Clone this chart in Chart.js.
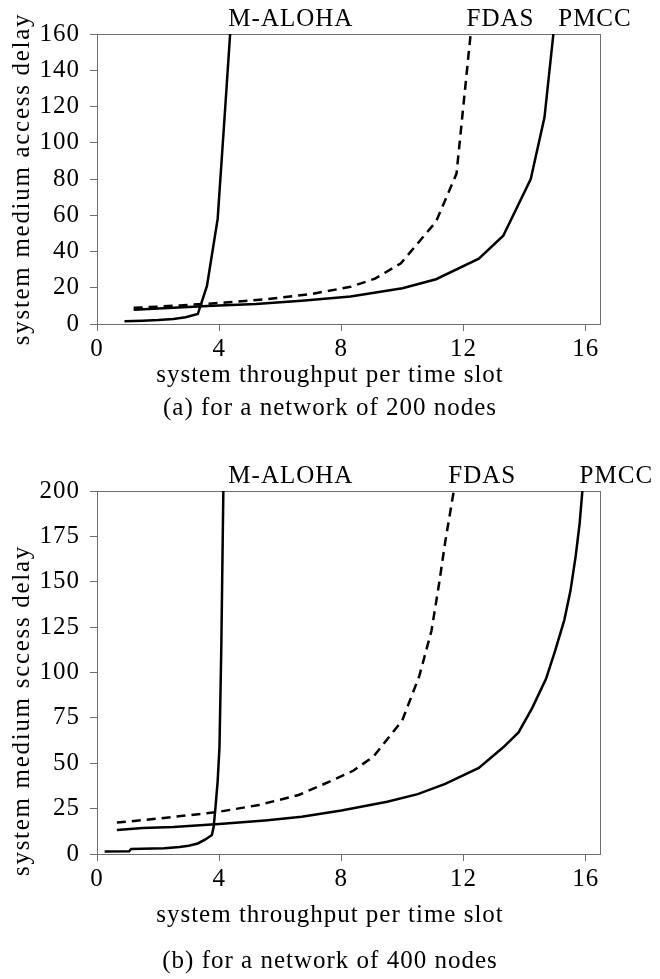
<!DOCTYPE html>
<html>
<head>
<meta charset="utf-8">
<script src="https://cdn.jsdelivr.net/npm/chart.js@4.4.1/dist/chart.umd.min.js"></script>
<style>
    html, body { margin: 0; padding: 0; background: #fff; }
    body { width: 660px; height: 979px; position: relative; overflow: hidden; }
    .panel { position: absolute; left: 0; width: 660px; }
    #panelA { top: 0; height: 432px; }
    #panelB { top: 440px; height: 539px; }
</style>
</head>
<body>
<div class="panel" id="panelA"><canvas id="chartA"></canvas></div>
<div class="panel" id="panelB"><canvas id="chartB"></canvas></div>
<script>
// curve names, written above the plot where each curve leaves it
const seriesNames = ["M-ALOHA", "FDAS", "PMCC"];
const xTicks = [0, 4, 8, 12, 16];

// (a) network of 200 nodes
const yTicksA = [0, 20, 40, 60, 80, 100, 120, 140, 160];
const alohaAx = [0.9, 1.5, 2.0, 2.5, 2.9, 3.3, 3.6, 3.95, 4.2, 4.37];
const alohaAy = [1.5, 1.8, 2.2, 2.8, 3.7, 5.5, 21, 58, 120, 163];
const fdasAx = [1.2, 2.7, 4.2, 5.6, 7.0, 8.3, 9.1, 9.95, 11.1, 11.77, 12.25];
const fdasAy = [8.9, 10.2, 11.8, 13.8, 16.5, 20.5, 25, 33.5, 56.5, 83, 163];
const pmccAx = [1.2, 2.5, 3.8, 5.2, 6.7, 8.3, 10, 11.1, 12.5, 13.3, 14.2, 14.65, 14.96];
const pmccAy = [7.9, 9.0, 10.1, 11.1, 12.8, 15.2, 19.7, 24.7, 36, 48.7, 80, 114, 163];
const labelAtA = [4.3, 12.1, 15.1];

// (b) network of 400 nodes
const yTicksB = [0, 25, 50, 75, 100, 125, 150, 175, 200];
const alohaBx = [0.25, 1.05, 1.12, 2.2, 2.7, 3.0, 3.3, 3.55, 3.76, 3.82, 3.88, 3.95, 4.01, 4.07, 4.14];
const alohaBy = [1.4, 1.5, 2.8, 3.2, 3.8, 4.5, 5.8, 8.0, 10.5, 15, 26, 40, 59, 114, 205];
const fdasBx = [0.65, 2, 3.9, 5.3, 6.6, 7.7, 8.4, 9.05, 9.99, 10.55, 10.95, 11.2, 11.4, 11.55, 11.7];
const fdasBy = [17.3, 19.5, 23, 27, 32.5, 40.5, 46, 53.7, 73.5, 98, 123, 149, 172, 187, 202];
const pmccBx = [0.65, 1.5, 2.5, 4, 5.5, 6.7, 8, 9.5, 10.5, 11.4, 12.5, 13.3, 13.8, 14.25, 14.7, 15.0, 15.3, 15.5, 15.67, 15.8, 15.9];
const pmccBy = [13.2, 14.3, 14.9, 16.5, 18.5, 20.5, 24, 28.8, 33, 38.6, 47.4, 58.8, 67, 80.5, 96.5, 112, 129, 145, 164, 182, 202];
const labelAtB = [4.3, 11.5, 15.8];

const serif = "'Liberation Serif', 'Times New Roman', serif";
const frameColor = "#6e6e6e";

function pts(xs, ys) {
    return xs.map((x, i) => ({ x: x, y: ys[i] }));
}

// frame round the plot, curve names on top, rotated y title
const decorations = {
    id: "decorations",
    beforeDraw(chart) {
        // the original text is set a little wider than Liberation Serif
        chart.ctx.letterSpacing = "1px";
    },
    beforeDatasetsDraw(chart) {
        const { ctx, chartArea: a } = chart;
        ctx.save();
        ctx.strokeStyle = frameColor;
        ctx.lineWidth = 1;
        ctx.strokeRect(Math.round(a.left) + 0.5, Math.round(a.top) + 0.5,
            Math.round(a.width) - 1, Math.round(a.height));
        ctx.restore();
    },
    afterDraw(chart, args, opts) {
        const { ctx, chartArea: a, scales } = chart;
        ctx.save();
        ctx.font = "25px " + serif;
        ctx.fillStyle = "#000";
        ctx.textAlign = "left";
        ctx.textBaseline = "alphabetic";
        opts.names.forEach((name, i) => {
            ctx.fillText(name, scales.x.getPixelForValue(opts.at[i]), a.top - 8);
        });
        // y axis title
        ctx.letterSpacing = "1.7px";
        ctx.translate(29, (a.top + a.bottom) / 2 + opts.yTitleShift);
        ctx.rotate(-Math.PI / 2);
        ctx.textAlign = "center";
        ctx.fillText(opts.yTitle, 0, 0);
        ctx.restore();
    }
};

function makeChart(id, cfg) {
    const font = { family: serif, size: 25, weight: "normal" };
    const line = (data, dash) => ({
        data: data,
        borderColor: "#000",
        borderWidth: 2.5,
        borderDash: dash,
        pointRadius: 0,
        fill: false,
        tension: 0
    });
    return new Chart(document.getElementById(id), {
        type: "line",
        data: {
            datasets: [
                line(pts(cfg.aloha[0], cfg.aloha[1]), []),
                line(pts(cfg.fdas[0], cfg.fdas[1]), [9, 6]),
                line(pts(cfg.pmcc[0], cfg.pmcc[1]), [])
            ]
        },
        plugins: [decorations],
        options: {
            animation: false,
            responsive: true,
            maintainAspectRatio: false,
            devicePixelRatio: 1,
            layout: { padding: { top: cfg.padTop, right: 0, left: 0, bottom: 0 } },
            plugins: {
                legend: { display: false },
                tooltip: { enabled: false },
                subtitle: {
                    display: true, position: "bottom", text: "system throughput per time slot",
                    color: "#000", font: font, padding: cfg.subPad
                },
                title: {
                    display: true, position: "bottom", text: cfg.caption,
                    color: "#000", font: font, padding: cfg.capPad
                },
                decorations: { names: seriesNames, at: cfg.labelAt, yTitle: cfg.yTitle, yTitleShift: cfg.yTitleShift }
            },
            scales: {
                x: {
                    type: "linear", min: 0, max: 16.5,
                    afterBuildTicks: s => { s.ticks = xTicks.map(v => ({ value: v })); },
                    afterFit: s => { s.height = 36; },
                    border: { display: false },
                    grid: { drawOnChartArea: false, drawTicks: true, tickLength: 7, color: frameColor },
                    ticks: { color: "#000", font: font, padding: 3, maxRotation: 0, autoSkip: false }
                },
                y: {
                    type: "linear", min: 0, max: cfg.yTicks[cfg.yTicks.length - 1],
                    afterBuildTicks: s => { s.ticks = cfg.yTicks.map(v => ({ value: v })); },
                    afterFit: s => { s.width = 97; },
                    border: { display: false },
                    grid: { drawOnChartArea: false, drawTicks: true, tickLength: 7, color: frameColor },
                    ticks: { color: "#000", font: font, padding: 10, autoSkip: false }
                },
                // empty right-hand axis: keeps white space beside the plot
                // while the titles stay centred on the whole figure
                yRight: {
                    type: "linear", position: "right", min: 0, max: 1,
                    afterFit: s => { s.width = 59; },
                    border: { display: false },
                    grid: { display: false },
                    ticks: { display: false }
                }
            }
        }
    });
}

makeChart("chartA", {
    aloha: [alohaAx, alohaAy], fdas: [fdasAx, fdasAy], pmcc: [pmccAx, pmccAy],
    yTicks: yTicksA, labelAt: labelAtA,
    yTitle: "system medium access delay", yTitleShift: 0,
    caption: "(a) for a network of 200 nodes",
    padTop: 34, subPad: { top: 0, bottom: 0 }, capPad: { top: 3, bottom: 9 }
});

makeChart("chartB", {
    aloha: [alohaBx, alohaBy], fdas: [fdasBx, fdasBy], pmcc: [pmccBx, pmccBy],
    yTicks: yTicksB, labelAt: labelAtB,
    yTitle: "system medium sccess delay", yTitleShift: 38,
    caption: "(b) for a network of 400 nodes",
    padTop: 51, subPad: { top: 10, bottom: 0 }, capPad: { top: 16, bottom: 3 }
});
</script>
</body>
</html>
